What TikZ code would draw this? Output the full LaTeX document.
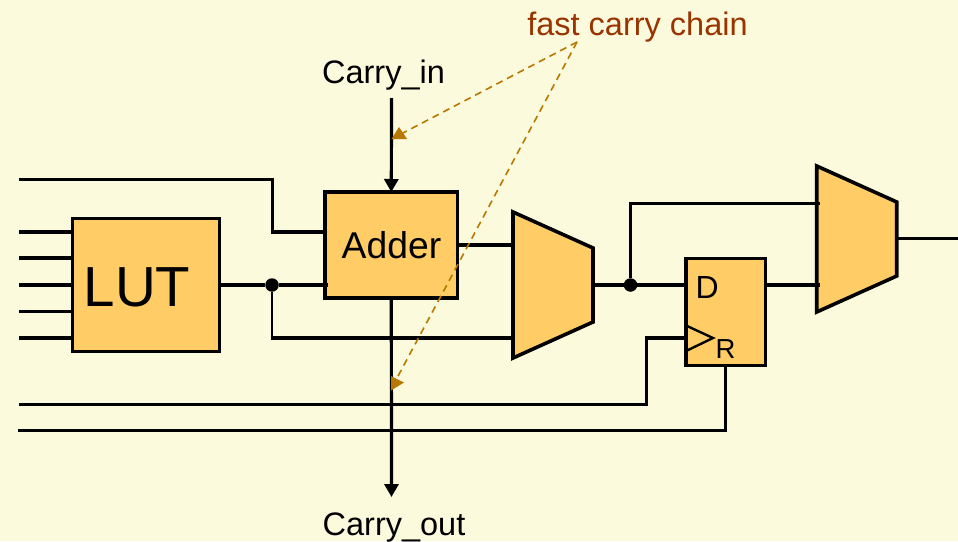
\documentclass[tikz,border=0pt]{standalone}
\usepackage{fontspec}
\setmainfont{Liberation Sans}
\usetikzlibrary{arrows.meta,calc}
\definecolor{bgc}{HTML}{FCFADD}
\definecolor{boxc}{HTML}{FFCC66}
\definecolor{notec}{HTML}{993300}
\definecolor{dashc}{HTML}{B87800}
\newcommand{\fsz}[1]{\fontsize{#1}{#1}\selectfont}
\tikzset{
  wire/.style={line width=3.2pt,line join=miter,line cap=butt},
  thinwire/.style={line width=2.4pt},
  sig/.style={wire,-{Triangle[length=13pt,width=14pt]}},
  blockbox/.style={draw=black,fill=boxc,line width=3.2pt,inner sep=0pt,outer sep=0pt,minimum width=#1},
  muxshape/.style={draw=black,fill=boxc,line width=3.6pt,line join=miter},
  joint/.style={circle,fill=black,inner sep=0pt,minimum size=13.5pt},
  lbl/.style={anchor=base,inner sep=0pt,text=black},
  note/.style={dashc,line width=1.6pt,dash pattern=on 7pt off 5pt},
  marker/.style={fill=dashc,draw=none}
}
\begin{document}
\begin{tikzpicture}[x=1pt,y=-1pt]
\useasboundingbox (0,0) rectangle (958,541);
\fill[bgc] (0,0) rectangle (958,541);

% free ends
\coordinate (t0) at (19,179.5);
\coordinate (i1) at (19,232);
\coordinate (i2) at (19,258);
\coordinate (i3) at (19,285);
\coordinate (i4) at (19,311.5);
\coordinate (i5) at (19,338);
\coordinate (clk0) at (19,404.5);
\coordinate (rst0) at (18,430.5);
\coordinate (cin) at (391.5,98);
\coordinate (cout) at (391.5,497);
\coordinate (out) at (958,238.5);
\coordinate (notetip) at (577,42);

% wires behind blocks
\draw[wire] (t0) -- (272.5,179.5) -- (272.5,232) -- (325,232);
\draw[wire] (i1) -- (73,232);
\draw[wire] (i2) -- (73,258);
\draw[wire] (i3) -- (73,285);
\draw[thinwire] (i4) -- (73,311.5);
\draw[wire] (i5) -- (73,338);
\draw[wire] (clk0) -- (646.5,404.5) -- (646.5,338) -- (686,338);
\draw[wire] (rst0) -- (725.5,430.5) -- (725.5,365);

% blocks
\node[blockbox=146.5pt,minimum height=133pt] (lut) at (146,285) {};
\node[blockbox=132.5pt,minimum height=106pt] (adder) at (391.3,245) {};
\node[blockbox=79.5pt,minimum height=106.5pt] (ff) at (725.7,312) {};
\draw[muxshape] (513,212) -- (593,248) -- (593,322) -- (513,358) -- cycle;
\draw[muxshape] (816.7,166) -- (896.7,202) -- (896.7,276) -- (816.7,312) -- cycle;
\coordinate (m1a) at (513,245);
\coordinate (m1b) at (513,338);
\coordinate (m1o) at (593,285);
\coordinate (m2a) at (820,203.5);
\coordinate (m2b) at (820,285);
\coordinate (m2o) at (897,238.5);

% joints
\node[joint] (j1) at (272,285) {};
\node[joint] (j2) at (630.5,285) {};

% wires
\draw[wire] (lut.east |- j1) -- (j1) -- (328,285);
\draw[thinwire] (j1) -- (272,338);
\draw[wire] (270.5,338) -- (m1b);
\draw[wire] (adder.east |- m1a) -- (m1a);
\draw[wire] (m1o) -- (j2) -- (ff.west |- j2);
\draw[thinwire] (j2) -- (630.5,203.5);
\draw[wire] (629.2,203.5) -- (m2a);
\draw[wire] (ff.east |- m2b) -- (m2b);
\draw[wire] (m2o) -- (out);
\draw[sig] (cin) -- (adder.north);
\draw[sig] (adder.south) -- (cout);

% clock mark
\draw[thinwire,line join=miter] (686,325.5) -- (713,338) -- (686,351);

% labels
\node[lbl,font=\fsz{32.5}] (lin) at (383.5,83) {Carry\_in};
\node[lbl,font=\fsz{32.5}] (lout) at (394,535) {Carry\_out};
\node[lbl,font=\fsz{32.5},text=notec] (lnote) at (637.5,35.5) {fast carry chain};
\node[lbl,font=\fsz{37.3}] (ladd) at (391.5,258) {Adder};
\node[lbl,font=\fsz{56.5}] (llut) at (137,306) {LUT};
\node[lbl,font=\fsz{32},anchor=base west] (ld) at (695.5,298) {D};
\node[lbl,font=\fsz{27.5},anchor=base west] (lr) at (715.5,358) {R};

% annotation
\coordinate (n1) at (403,133);
\coordinate (n2) at (397,378);
\draw[note] (notetip) -- (n1);
\draw[note] (notetip) -- (n2);
\fill[marker] (399,127) -- (407,139) -- (391.5,139) -- cycle;
\fill[marker] (404,382.5) -- (391,390.5) -- (391,376) -- cycle;
\end{tikzpicture}
\end{document}
